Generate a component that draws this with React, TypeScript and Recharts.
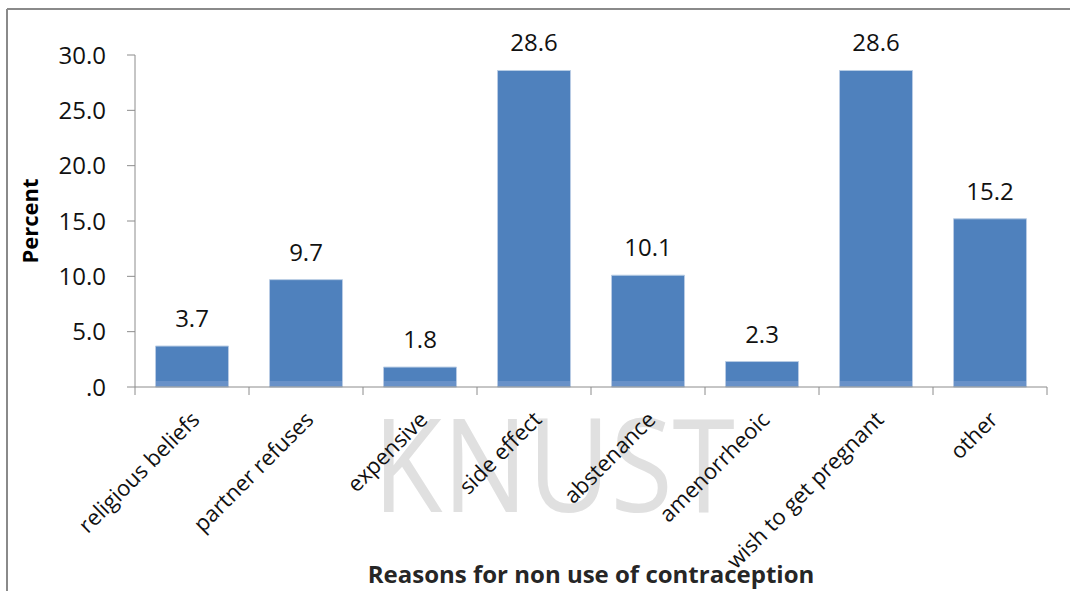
import { Bar, BarChart, LabelList, Label, XAxis, YAxis } from "recharts";

const reasons = [
  "religious beliefs",
  "partner refuses",
  "expensive",
  "side effect",
  "abstenance",
  "amenorrheoic",
  "wish to get pregnant",
  "other",
];
const percents = [3.7, 9.7, 1.8, 28.6, 10.1, 2.3, 28.6, 15.2];
const yTicks = [0, 5, 10, 15, 20, 25, 30];

const data = reasons.map((reason, i) => ({ reason, percent: percents[i] }));

const W = 1070;
const H = 591;
const STEP = 114; // category band width in px
const FONT = "'Open Sans', 'Noto Sans', sans-serif";

function ReasonTick({ x, y, payload, index }: any) {
  const axisY = y - 10;
  const tx = x + 9;
  const ty = y + 24;
  return (
    <g>
      <line x1={x - STEP / 2} y1={axisY} x2={x - STEP / 2} y2={axisY + 8} stroke="#8c8c8c" />
      {index === reasons.length - 1 && (
        <line x1={x + STEP / 2} y1={axisY} x2={x + STEP / 2} y2={axisY + 8} stroke="#8c8c8c" />
      )}
      <text
        x={tx}
        y={ty}
        transform={`rotate(-45, ${tx}, ${ty})`}
        textAnchor="end"
        fontSize={22}
        fontFamily={FONT}
        fill="#111"
      >
        {payload.value}
      </text>
    </g>
  );
}

export default function App() {
  return (
    <div style={{ position: "fixed", left: 0, top: 0, width: W, height: H, background: "#fff", overflow: "hidden" }}>
      {/* frame + watermark */}
      <svg width={W} height={H} style={{ position: "absolute", left: 0, top: 0 }}>
        <line x1={7} y1={9} x2={W} y2={9} stroke="#8a8a8a" strokeWidth={2} />
        <line x1={7} y1={9} x2={7} y2={H} stroke="#8a8a8a" strokeWidth={2} />
        <text
          x={373}
          y={512}
          fontSize={130}
          fontFamily={FONT}
          fill="#e0e0e0"
          textLength={362}
          lengthAdjust="spacingAndGlyphs"
        >
          KNUST
        </text>
      </svg>
      <div style={{ position: "absolute", left: 0, top: 0 }}>
        <BarChart
          width={W}
          height={H}
          data={data}
          margin={{ top: 55, right: 23, bottom: 0, left: 0 }}
          barCategoryGap="18%"
        >
          <defs>
            <linearGradient id="barFill" gradientUnits="userSpaceOnUse" x1="0" y1="0" x2="0" y2={H}>
              <stop offset="0" stopColor="#4f81bd" />
              <stop offset={380.5 / H} stopColor="#4f81bd" />
              <stop offset={380.5 / H} stopColor="#6891c8" />
              <stop offset="1" stopColor="#6891c8" />
            </linearGradient>
          </defs>
          <XAxis
            dataKey="reason"
            height={204}
            interval={0}
            tickLine={false}
            tickSize={8}
            tickMargin={2}
            axisLine={{ stroke: "#8c8c8c" }}
            tick={<ReasonTick />}
          >
            <Label
              content={({ viewBox }: any) => (
                <text
                  x={viewBox.x + viewBox.width / 2}
                  y={583}
                  textAnchor="middle"
                  fontSize={24}
                  fontWeight={700}
                  fontFamily={FONT}
                  fill="#262626"
                >
                  Reasons for non use of contraception
                </text>
              )}
            />
          </XAxis>
          <YAxis
            width={135}
            domain={[0, 30]}
            ticks={yTicks}
            tickSize={8}
            tickMargin={21}
            tickLine={{ stroke: "#8c8c8c" }}
            axisLine={{ stroke: "#8c8c8c" }}
            tick={{ fontSize: 24, fontFamily: FONT, fill: "#111" }}
            tickFormatter={(v: number) => (v === 0 ? ".0" : v.toFixed(1))}
          >
            <Label
              content={({ viewBox }: any) => {
                const cx = 29;
                const cy = viewBox.y + viewBox.height / 2;
                return (
                  <text
                    x={cx}
                    y={cy}
                    transform={`rotate(-90, ${cx}, ${cy})`}
                    textAnchor="middle"
                    dominantBaseline="central"
                    fontSize={22}
                    fontWeight={700}
                    fontFamily={FONT}
                    fill="#000"
                  >
                    Percent
                  </text>
                );
              }}
            />
          </YAxis>
          <Bar dataKey="percent" fill="url(#barFill)" stroke="#b8cce4" strokeWidth={1} isAnimationActive={false}>
            <LabelList
              dataKey="percent"
              position="top"
              offset={19}
              formatter={(v: any) => Number(v).toFixed(1)}
              style={{ fontSize: 24, fontFamily: FONT, fill: "#111" }}
            />
          </Bar>
        </BarChart>
      </div>
    </div>
  );
}
